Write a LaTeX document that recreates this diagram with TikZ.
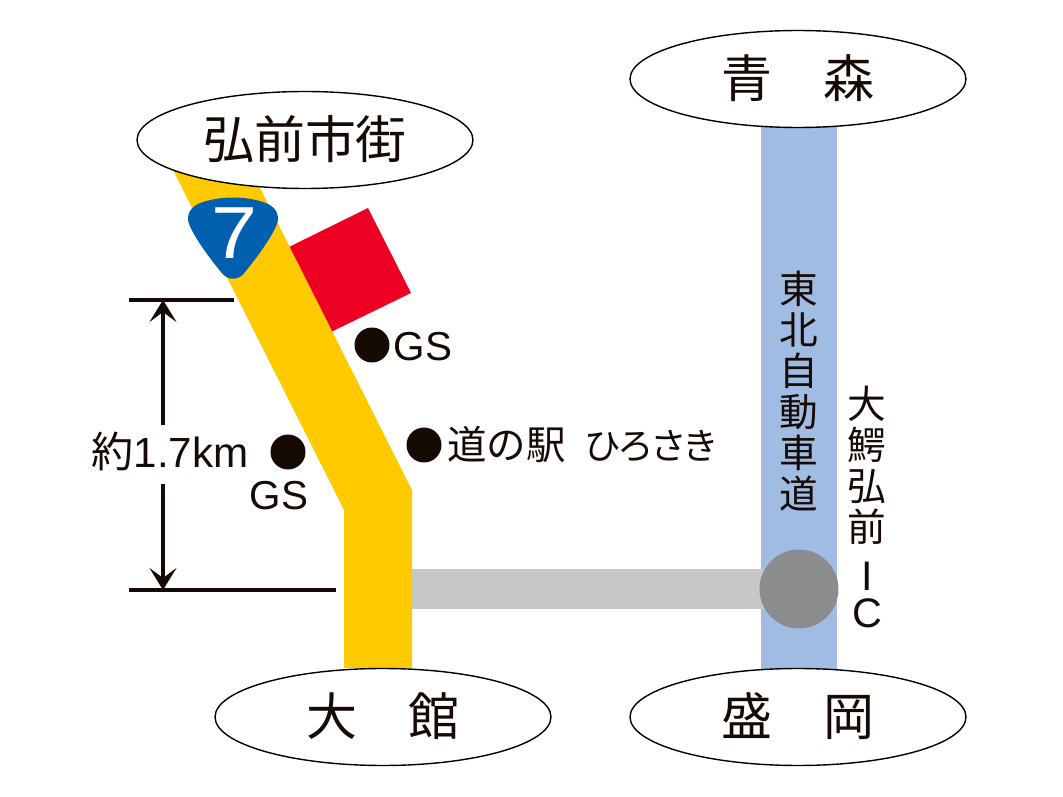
\documentclass[tikz,border=0pt]{standalone}
\usepackage{fontspec}
\setmainfont{Noto Sans CJK JP}
\newfontfamily\latinfont{Liberation Sans}
\usetikzlibrary{shapes.geometric,arrows.meta}
\newcommand{\citytext}[1]{\raisebox{3pt}{#1}}
\tikzset{
  city/.style={ellipse,draw,fill=white,line width=0.8pt,minimum width=6.72cm,minimum height=1.94cm,inner sep=0pt,text=dimblack,font=\fontsize{29}{31}\selectfont},
  dot/.style={circle,fill=dimblack,inner sep=0pt,minimum size=0.7cm},
  place/.style={inner sep=0pt,text=dimblack,font=\fontsize{22.5}{24}\selectfont},
  gslabel/.style={inner sep=0pt,text=dimblack,font=\latinfont\fontsize{23}{25}\selectfont},
  tatelabel/.style={inner sep=0pt,text=dimblack,align=center,font=\fontsize{22}{23.3}\selectfont},
  dimline/.style={dimblack,line width=2.8pt},
  dimarrow/.style={dimblack,line width=2.8pt,-{Stealth[length=0.44cm,width=0.54cm,inset=0.2cm]}}
}
\definecolor{dimblack}{HTML}{150A04}
\definecolor{roadyellow}{HTML}{FFCB00}
\definecolor{roadblue}{HTML}{A0BCE3}
\definecolor{roadgray}{HTML}{C6C7C9}
\definecolor{icgray}{HTML}{8C8D8F}
\definecolor{sitered}{HTML}{EE0022}
\definecolor{shieldblue}{HTML}{0060AF}
\begin{document}
\begin{tikzpicture}[x=0.02cm,y=-0.02cm]
\useasboundingbox (0,0) rectangle (1063,797);
\coordinate (aomoriC) at (798,79);
\coordinate (moriokaC) at (798,717);
\coordinate (roadtop) at (799,79);
\coordinate (roadend) at (799,717);
\coordinate (gray1) at (412,589);
\coordinate (ichi) at (799,589);

% roads
\draw[roadblue,line width=1.52cm] (roadtop)--(roadend);
\draw[roadgray,line width=0.82cm] (gray1)--(ichi);
\fill[sitered] (289,247)--(368,208)--(411,293)--(331,332)--cycle;
\fill[roadyellow] (172,168)--(259,186)--(412,490)--(412,668)--(344,668)--(344,510)--cycle;
\node[circle,fill=icgray,inner sep=0pt,minimum size=1.58cm] (ic) at (ichi) {};

% route shield
\fill[shieldblue] (188,219) .. controls (188,210) and (194,205) .. (203,202)
  .. controls (222,196) and (244,196) .. (263,202)
  .. controls (272,205) and (278,210) .. (278,219)
  .. controls (278,228) and (260,254) .. (245,272)
  .. controls (239,281) and (227,281) .. (221,272)
  .. controls (206,254) and (188,228) .. (188,219)--cycle;
\node[inner sep=0pt,text=white,xscale=1.12,font=\latinfont\fontsize{42}{44}\selectfont] (r7) at (234,233) {7};

\node[city] (aomori) at (aomoriC) {\citytext{青　森}};
\node[city] (hirosaki) at (305,140) {\citytext{弘前市街}};
\node[city] (odate) at (383,717) {\citytext{大　館}};
\node[city] (morioka) at (moriokaC) {\citytext{盛　岡}};

% distance
\coordinate (t1) at (129,300);
\coordinate (t2) at (234,300);
\coordinate (b1) at (129,590);
\coordinate (b2) at (336,590);
\coordinate (t3) at (163,300);
\coordinate (b3) at (163,590);
\node[place,font=\fontsize{24}{26}\selectfont] (dist) at (170,451) {約\latinfont 1.7km};
\draw[dimline] (t1)--(t2);
\draw[dimline] (b1)--(b2);
\draw[dimarrow] (163,425)--(t3);
\draw[dimarrow] (163,484)--(b3);

\node[dot] (gs1) at (372,345) {};
\node[dot] (eki) at (424,445) {};
\node[dot] (gs2) at (288,452) {};
\node[gslabel] (gs1t) at (423,347) {GS};
\node[gslabel] (gs2t) at (279,496) {GS};
\node[place,anchor=west] (ekit) at (447,445) {道の駅\hspace{0.38cm}{\fontsize{20.8}{24}\selectfont\addfontfeature{CharacterWidth=AlternateProportional}ひろさき}};

\node[tatelabel] (tohoku) at (799,391) {東\\北\\自\\動\\車\\道};
\node[tatelabel] (ictext) at (867,507) {大\\鰐\\弘\\前\\[5pt]{\latinfont\fontsize{23.5}{25}\selectfont I}\\[-2.2pt]{\latinfont\fontsize{23.5}{25}\selectfont C}};
\end{tikzpicture}
\end{document}
